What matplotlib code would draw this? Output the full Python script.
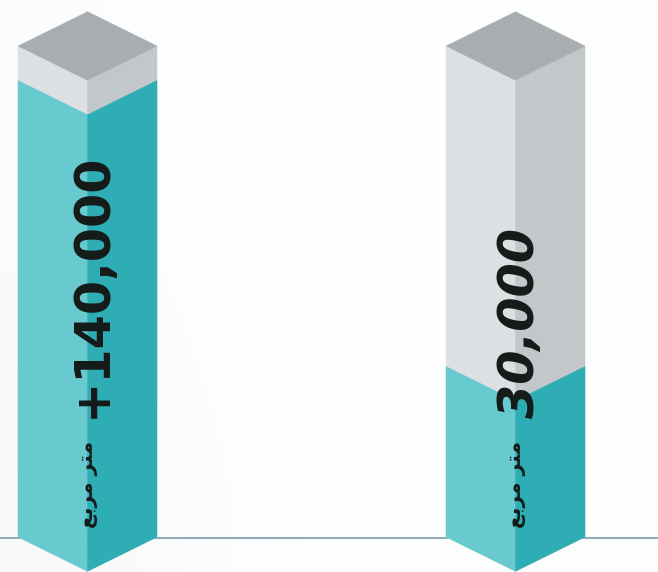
import numpy as np
import matplotlib
matplotlib.use("Agg")
import matplotlib.pyplot as plt
from matplotlib.patches import Polygon

# Data
bar_labels = ["+140,000", "30,000"]
label_styles = ["normal", "italic"]
fill_heights = [456.5, 170.5]      # teal fill level
tank_height = 491
unit_text = "\ufeca\ufe91\ufeae\ufee3 \ufeae\ufe98\ufee3"   # متر مربع, shaped, in visual order

# Style
centers = [87.5, 515.5]
half_w = 69.5
depth = 34.3
C_TOP, C_GL, C_GR, C_TL, C_TR = "#a8adb1", "#dde0e3", "#c2c7ca", "#68c9cf", "#2fadb4"
INK = "#141a17"

fig = plt.figure(figsize=(6.58, 5.72), dpi=100, facecolor="#fdfdfe")
ax = fig.add_axes([0, 0, 1, 1])
ax.set_xlim(0, 658)
ax.set_ylim(-35, 537)
ax.axis("off")

# faint page shading
bg = np.array([[0.990, 0.997, 1.0, 1.0, 1.0, 0.995],
               [0.985, 0.994, 0.999, 1.0, 1.0, 0.995],
               [0.975, 0.988, 0.996, 1.0, 1.0, 0.995]])
rgb = np.dstack([bg - 0.003, bg - 0.001, np.minimum(bg + 0.003, 1)])
ax.imshow(rgb, extent=(0, 658, -35, 537), aspect="auto", interpolation="bicubic", zorder=0)
ax.set_xlim(0, 658)
ax.set_ylim(-35, 537)

# baseline
ax.axhline(-1, color="#6d93aa", lw=1.1, zorder=1)


def side_faces(cx, low, high, left_c, right_c):
    ax.add_patch(Polygon([(cx - half_w, low), (cx, low - depth), (cx, high - depth), (cx - half_w, high)],
                         closed=True, fc=left_c, ec=left_c, lw=0.3, zorder=2))
    ax.add_patch(Polygon([(cx, low - depth), (cx + half_w, low), (cx + half_w, high), (cx, high - depth)],
                         closed=True, fc=right_c, ec=right_c, lw=0.3, zorder=2))


for cx, fill, label, style in zip(centers, fill_heights, bar_labels, label_styles):
    side_faces(cx, 0, tank_height, C_GL, C_GR)
    side_faces(cx, 0, fill, C_TL, C_TR)
    ax.add_patch(Polygon([(cx - half_w, tank_height), (cx, tank_height - depth),
                          (cx + half_w, tank_height), (cx, tank_height + depth)],
                         closed=True, fc=C_TOP, ec=C_TOP, lw=0.3, zorder=3))
    ax.text(cx + 4.5, 119, label, rotation=90, ha="left", va="center", rotation_mode="anchor",
            fontsize=35.5, fontweight="bold", fontstyle=style, family="DejaVu Sans", color=INK, zorder=4)
    ax.text(cx + 1, 9, unit_text, rotation=90, ha="left", va="center", rotation_mode="anchor",
            fontsize=14.5, fontweight="bold", family="DejaVu Sans", color=INK, zorder=4)

fig.savefig("out.png", dpi=100, facecolor=fig.get_facecolor())
